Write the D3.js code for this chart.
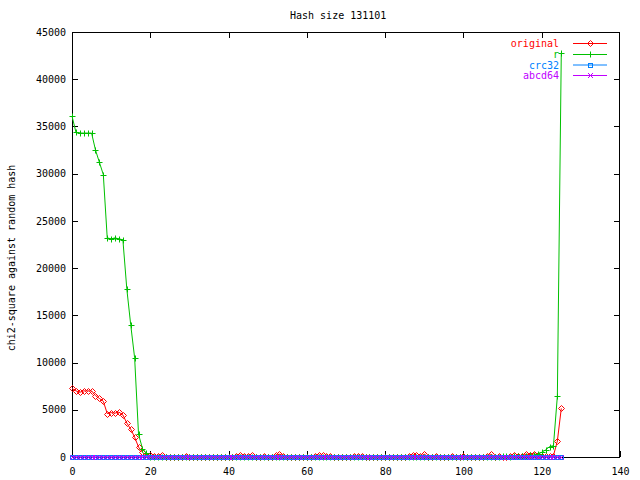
<!DOCTYPE html>
<html><head><meta charset="utf-8">
<script src="https://cdn.jsdelivr.net/npm/d3@7"></script>
<style>body{margin:0;background:#fff}svg{display:block}text{font-family:"DejaVu Sans Mono",monospace;font-size:10px}</style>
</head><body><svg id="c" width="640" height="480"></svg>
<script>
const title = "Hash size 131101";
const yLabel = "chi2-square against random hash";
const xTicks = [0, 20, 40, 60, 80, 100, 120, 140];
const yTicks = [0, 5000, 10000, 15000, 20000, 25000, 30000, 35000, 40000, 45000];
const seriesNames = ["original", "r", "crc32", "abcd64"];
const xValues = d3.range(0, 126);
const original = [
 7270, 7000, 6850, 7000, 7000, 7000, 6500, 6200, 5900, 4600,
 4700, 4650, 4750, 4450, 3600, 2950, 2100, 1050, 500, 150,
 200, 150, 120, 180, 40, 30, 50, 40, 30, 60,
 40, 30, 50, 40, 30, 50, 40, 30, 50, 40,
 30, 50, 120, 200, 150, 60, 180, 40, 30, 150,
 40, 30, 180, 300, 150, 50, 40, 30, 50, 40,
 30, 50, 150, 200, 180, 150, 120, 40, 30, 50,
 40, 30, 150, 60, 150, 40, 30, 50, 40, 30,
 50, 40, 30, 50, 40, 30, 60, 200, 180, 60,
 300, 40, 30, 150, 40, 30, 50, 150, 40, 30,
 150, 40, 30, 50, 40, 30, 60, 300, 40, 150,
 40, 50, 60, 200, 80, 120, 300, 250, 350, 200,
 150, 120, 100, 150, 1690, 5150];
const r = [
 36100, 34400, 34300, 34300, 34300, 34300, 32500, 31200, 29900, 23200,
 23100, 23200, 23100, 23000, 17800, 14000, 10500, 2400, 900, 400,
 50, 30, 20, 40, 30, 20, 30, 40, 20, 30,
 40, 20, 30, 40, 20, 30, 40, 20, 30, 40,
 20, 30, 40, 20, 30, 40, 20, 30, 40, 20,
 30, 40, 20, 30, 40, 20, 30, 40, 20, 30,
 40, 20, 30, 40, 20, 30, 40, 20, 30, 40,
 20, 30, 40, 20, 30, 40, 20, 30, 40, 20,
 30, 40, 20, 30, 40, 20, 30, 40, 20, 30,
 40, 20, 30, 40, 20, 30, 40, 20, 30, 40,
 20, 30, 40, 20, 30, 40, 20, 30, 40, 20,
 60, 80, 50, 100, 80, 120, 150, 180, 200, 300,
 500, 750, 1100, 1200, 6450, 42800];
const crc32 = [
 0,0,0,0,0,0,0,0,0,0, 0,0,0,0,0,0,0,0,0,0,
 0,0,0,0,0,0,0,0,0,0, 0,0,0,0,0,0,0,0,0,0,
 0,0,0,0,0,0,0,0,0,0, 0,0,0,0,0,0,0,0,0,0,
 0,0,0,0,0,0,0,0,0,0, 0,0,0,0,0,0,0,0,0,0,
 0,0,0,0,0,0,0,0,0,0, 0,0,0,0,0,0,0,0,0,0,
 0,0,0,0,0,0,0,0,0,0, 0,0,0,0,0,0,0,0,0,0,
 0,0,0,0,0,0];
const abcd64 = [
 0,0,0,0,0,0,0,0,0,0, 0,0,0,0,0,0,0,0,0,0,
 0,0,0,0,0,0,0,0,0,0, 0,0,0,0,0,0,0,0,0,0,
 0,0,0,0,0,0,0,0,0,0, 0,0,0,0,0,0,0,0,0,0,
 0,0,0,0,0,0,0,0,0,0, 0,0,0,0,0,0,0,0,0,0,
 0,0,0,0,0,0,0,0,0,0, 0,0,0,0,0,0,0,0,0,0,
 0,0,0,0,0,0,0,0,0,0, 0,0,0,0,0,0,0,0,0,0,
 0,0,0,0,0,0];
const colors = ["#ff0000", "#00c000", "#0080ff", "#c000ff"];
const markers = ["diamond", "plus", "box", "cross"];

const L = 72, R = 620, T = 32, B = 457;
const svg = d3.select("#c");
const x = d3.scaleLinear().domain([0, 140]).range([L, R]);
const y = d3.scaleLinear().domain([0, 45000]).range([B, T]);

svg.append("text").attr("x", 290).attr("y", 19).attr("fill", "#000").text(title);
svg.append("text").attr("transform", "translate(15,258) rotate(-90)")
  .attr("text-anchor", "middle").attr("fill", "#000").text(yLabel);

const tl = 6;
const axB = svg.append("g").attr("transform", `translate(0,${B})`)
  .call(d3.axisBottom(x).tickValues(xTicks).tickSize(-tl).tickPadding(14).tickFormat(d3.format("d")));
const axT = svg.append("g").attr("transform", `translate(0,${T})`)
  .call(d3.axisTop(x).tickValues(xTicks.slice(0, -1)).tickSize(-tl).tickFormat(""));
const axL = svg.append("g").attr("transform", `translate(${L},0)`)
  .call(d3.axisLeft(y).tickValues(yTicks).tickSize(-tl).tickPadding(6).tickFormat(d3.format("d")));
const axR = svg.append("g").attr("transform", `translate(${R},0)`)
  .call(d3.axisRight(y).tickValues(yTicks.slice(0, -1)).tickSize(-tl).tickFormat(""));
[axB, axT, axL, axR].forEach(a => {
  a.select(".domain").remove();
  a.selectAll("line").attr("stroke", "#000").attr("shape-rendering", "crispEdges");
  a.selectAll("text").attr("fill", "#000").style("font-family", "DejaVu Sans Mono").style("font-size", "10px");
});
axB.selectAll("text").attr("dy", "0.35em");
svg.append("rect").attr("x", L + 0.5).attr("y", T + 0.5).attr("width", R - L - 1).attr("height", B - T)
  .attr("fill", "none").attr("stroke", "#000").attr("shape-rendering", "crispEdges");

function marker(g, type, cx, cy, col) {
  cx = Math.round(cx) + 0.5; cy = Math.round(cy) + 0.5;
  if (type === "diamond") g.append("path").attr("d", `M${cx},${cy-3}L${cx+3},${cy}L${cx},${cy+3}L${cx-3},${cy}Z`).attr("fill", "none").attr("stroke", col);
  else if (type === "plus") g.append("path").attr("d", `M${cx-3},${cy}H${cx+3}M${cx},${cy-3}V${cy+3}`).attr("stroke", col);
  else if (type === "box") g.append("rect").attr("x", cx - 2).attr("y", cy - 2).attr("width", 4).attr("height", 4).attr("fill", "none").attr("stroke", col);
  else g.append("path").attr("d", `M${cx-2.5},${cy-2.5}L${cx+2.5},${cy+2.5}M${cx-2.5},${cy+2.5}L${cx+2.5},${cy-2.5}`).attr("stroke", col);
}

const allSeries = [original, r, crc32, abcd64];
const line = d3.line().x(d => x(d[0])).y(d => y(d[1]));
allSeries.forEach((vals, i) => {
  const pts = xValues.map((xv, j) => [xv, vals[j]]);
  const g = svg.append("g");
  g.append("path").attr("d", line(pts)).attr("fill", "none").attr("stroke", colors[i]).attr("stroke-width", 1);
  pts.forEach(p => marker(g, markers[i], x(p[0]), y(p[1]), colors[i]));
});

const legY = [43, 54, 64.5, 75];
seriesNames.forEach((n, i) => {
  const g = svg.append("g");
  g.append("text").attr("x", 559).attr("y", legY[i] + 4).attr("text-anchor", "end").attr("fill", colors[i]).text(n);
  g.append("line").attr("x1", 573).attr("x2", 607).attr("y1", legY[i] + 0.5).attr("y2", legY[i] + 0.5).attr("stroke", colors[i]);
  marker(g, markers[i], 590, legY[i], colors[i]);
});
</script></body></html>
